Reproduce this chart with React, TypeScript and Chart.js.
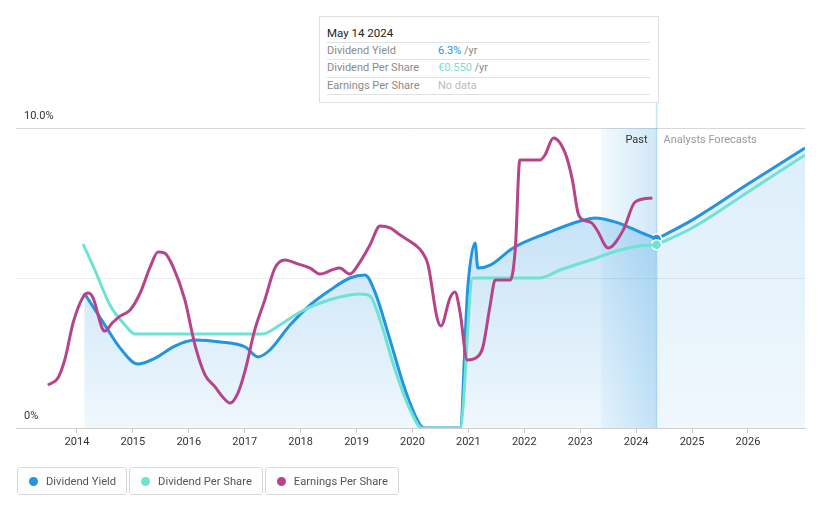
import React, { useEffect, useRef } from "react";
import { Chart, registerables } from "chart.js";

Chart.register(...registerables);

// ---- data (decimal years) ----
const yearTicks = [2014, 2015, 2016, 2017, 2018, 2019, 2020, 2021, 2022, 2023, 2024, 2025, 2026];
const X_MIN = 2012.91;
const X_MAX = 2027.02;
const PAST_START = 2023.37;
const TODAY = 2024.366;

// Dividend Yield (%) – past
const dyYears = [2014.13, 2014.5, 2014.77, 2015.09, 2015.4, 2015.75, 2016.11, 2016.56, 2017.01, 2017.24, 2017.45, 2017.81, 2018.17, 2018.53, 2018.88, 2019.15, 2019.33, 2019.6, 2019.87, 2020.14, 2020.23, 2020.85, 2020.99, 2021.12, 2021.17, 2021.39, 2021.8, 2022.41, 2023.0, 2023.27, 2023.62, 2024.07, 2024.366];
const dyValues = [4.5, 3.43, 2.67, 2.13, 2.33, 2.73, 2.93, 2.87, 2.7, 2.37, 2.6, 3.43, 4.1, 4.6, 5.0, 5.1, 4.53, 2.93, 1.27, 0.1, 0, 0, 4.7, 6.17, 5.33, 5.43, 6.0, 6.5, 6.9, 7.0, 6.87, 6.53, 6.3];
// Dividend Yield (%) – analysts forecast
const dyFcYears = [2024.366, 2025.0, 2026.0, 2027.02];
const dyFcValues = [6.3, 6.93, 8.13, 9.33];

// Dividend Per Share (EUR) – past
const dpsYears = [2014.11, 2014.32, 2014.59, 2014.86, 2015.04, 2016.2, 2017.31, 2017.63, 2017.99, 2018.35, 2018.7, 2019.06, 2019.24, 2019.42, 2019.69, 2019.96, 2020.17, 2020.85, 2021.08, 2022.28, 2022.64, 2023.18, 2023.71, 2024.07, 2024.366];
const dpsValues = [0.552, 0.474, 0.369, 0.309, 0.282, 0.282, 0.282, 0.309, 0.348, 0.375, 0.393, 0.402, 0.396, 0.324, 0.174, 0.054, 0, 0, 0.45, 0.45, 0.474, 0.504, 0.534, 0.547, 0.55];
// Dividend Per Share (EUR) – analysts forecast
const dpsFcYears = [2024.366, 2025.0, 2026.0, 2027.02];
const dpsFcValues = [0.55, 0.6, 0.708, 0.819];

// Earnings Per Share (relative units)
const epsYears = [2013.48, 2013.66, 2013.79, 2013.93, 2014.11, 2014.2, 2014.29, 2014.45, 2014.5, 2014.63, 2014.77, 2014.95, 2015.13, 2015.31, 2015.45, 2015.57, 2015.72, 2015.93, 2016.11, 2016.29, 2016.47, 2016.59, 2016.74, 2016.88, 2017.01, 2017.18, 2017.36, 2017.54, 2017.72, 2017.95, 2018.17, 2018.35, 2018.56, 2018.7, 2018.88, 2019.06, 2019.24, 2019.42, 2019.6, 2019.78, 2020.05, 2020.17, 2020.28, 2020.44, 2020.51, 2020.67, 2020.76, 2020.85, 2020.98, 2021.16, 2021.26, 2021.39, 2021.48, 2021.75, 2021.84, 2021.92, 2022.28, 2022.37, 2022.52, 2022.73, 2022.86, 2022.96, 2023.02, 2023.21, 2023.3, 2023.5, 2023.77, 2023.98, 2024.29];
const epsValues = [1.43, 1.67, 2.33, 3.5, 4.37, 4.5, 4.33, 3.33, 3.23, 3.5, 3.73, 3.93, 4.5, 5.37, 5.87, 5.83, 5.37, 4.27, 2.77, 1.77, 1.37, 1.07, 0.83, 1.17, 1.93, 3.27, 4.27, 5.33, 5.6, 5.47, 5.33, 5.13, 5.27, 5.33, 5.13, 5.53, 6.1, 6.73, 6.67, 6.43, 6.1, 5.87, 5.43, 3.67, 3.4, 4.33, 4.53, 3.87, 2.27, 2.37, 2.7, 4.1, 4.93, 4.93, 6.0, 8.93, 8.93, 9.1, 9.67, 9.17, 8.27, 7.17, 6.97, 6.83, 6.6, 6.0, 6.6, 7.53, 7.67];

const BLUE = "#2394df";
const TEAL = "#6fe3d3";
const MAGENTA = "#b7448a";
const FONT = "Roboto, 'Noto Sans', sans-serif";

const pts = (xs: number[], ys: number[]) => xs.map((x, i) => ({ x, y: ys[i] }));

const overlayPlugin = {
  id: "overlay",
  beforeDatasetsDraw(chart: any) {
    const { ctx, chartArea, scales } = chart;
    const x = scales.x;
    const x0 = x.getPixelForValue(PAST_START);
    const x1 = x.getPixelForValue(TODAY);
    ctx.save();
    const g = ctx.createLinearGradient(x0, 0, x1, 0);
    g.addColorStop(0, "rgba(35,148,223,0.05)");
    g.addColorStop(1, "rgba(35,148,223,0.22)");
    ctx.fillStyle = g;
    ctx.fillRect(x0, chartArea.top, x1 - x0, chartArea.bottom - chartArea.top);
    ctx.strokeStyle = "rgba(35,148,223,0.25)";
    ctx.lineWidth = 1.5;
    ctx.beginPath();
    ctx.moveTo(x1, 100);
    ctx.lineTo(x1, chartArea.bottom);
    ctx.stroke();
    ctx.font = `11px ${FONT}`;
    ctx.textBaseline = "middle";
    ctx.textAlign = "right";
    ctx.fillStyle = "#333";
    ctx.fillText("Past", x1 - 9, 140);
    ctx.textAlign = "left";
    ctx.fillStyle = "#999";
    ctx.fillText("Analysts Forecasts", x1 + 7, 140);
    ctx.restore();
  },
};

const areaFill = (a0: number, a1: number) => (c: any) => {
  const chart = c.chart;
  const ca = chart.chartArea;
  if (!ca) return "rgba(35,148,223,0.15)";
  const g = chart.ctx.createLinearGradient(0, ca.top, 0, ca.bottom);
  g.addColorStop(0, `rgba(35,148,223,${a0})`);
  g.addColorStop(1, `rgba(35,148,223,${a1})`);
  return g;
};

export default function App() {
  const ref = useRef<HTMLCanvasElement | null>(null);

  useEffect(() => {
    if (!ref.current) return;
    const chart = new Chart(ref.current, {
      type: "line",
      data: {
        datasets: [
          {
            label: "Earnings Per Share",
            data: pts(epsYears, epsValues),
            borderColor: MAGENTA,
            borderWidth: 3,
            pointRadius: 0,
            cubicInterpolationMode: "monotone",
            fill: false,
            yAxisID: "y",
          },
          {
            label: "Dividend Per Share",
            data: pts(dpsYears, dpsValues),
            borderColor: TEAL,
            borderWidth: 3,
            pointRadius: 0,
            cubicInterpolationMode: "monotone",
            fill: false,
            yAxisID: "yDps",
          },
          {
            label: "Dividend Per Share forecast",
            data: pts(dpsFcYears, dpsFcValues),
            borderColor: TEAL,
            borderWidth: 3,
            pointRadius: (c: any) => (c.dataIndex === 0 ? 5 : 0),
            pointBackgroundColor: TEAL,
            pointBorderColor: "#fff",
            pointBorderWidth: 1.5,
            cubicInterpolationMode: "monotone",
            fill: false,
            yAxisID: "yDps",
          },
          {
            label: "Dividend Yield",
            data: pts(dyYears, dyValues),
            borderColor: BLUE,
            borderWidth: 3,
            pointRadius: 0,
            cubicInterpolationMode: "monotone",
            fill: "origin",
            backgroundColor: areaFill(0.34, 0.07),
            yAxisID: "y",
          },
          {
            label: "Dividend Yield forecast",
            data: pts(dyFcYears, dyFcValues),
            borderColor: BLUE,
            borderWidth: 3,
            pointRadius: (c: any) => (c.dataIndex === 0 ? 5 : 0),
            pointBackgroundColor: BLUE,
            pointBorderColor: "#fff",
            pointBorderWidth: 1.5,
            cubicInterpolationMode: "monotone",
            fill: "origin",
            backgroundColor: areaFill(0.16, 0.07),
            yAxisID: "y",
          },
        ],
      },
      options: {
        responsive: false,
        animation: false,
        events: [],
        layout: { padding: { left: 16, right: 16, top: 128, bottom: 0 } },
        plugins: { legend: { display: false }, tooltip: { enabled: false } },
        scales: {
          x: {
            type: "linear",
            min: X_MIN,
            max: X_MAX,
            afterBuildTicks: (s: any) => {
              s.ticks = yearTicks.map((v) => ({ value: v }));
            },
            afterFit: (s: any) => {
              s.height = 80;
            },
            grid: { drawOnChartArea: false, drawTicks: true, tickLength: 5, color: "#cccccc" },
            border: { display: true, color: "#d0d0d0" },
            ticks: {
              color: "#333",
              font: { family: FONT, size: 11 },
              padding: 3,
              maxRotation: 0,
              autoSkip: false,
              callback: (v: any) => String(v),
            },
          },
          y: {
            min: 0,
            max: 10,
            afterFit: (s: any) => {
              s.width = 0;
            },
            grid: {
              drawTicks: false,
              color: (c: any) => (c.tick && c.tick.value === 5 ? "#ececec" : "#d8d8d8"),
            },
            border: { display: false },
            ticks: {
              stepSize: 5,
              mirror: true,
              padding: 8,
              labelOffset: -12,
              color: "#333",
              font: { family: FONT, size: 11 },
              callback: (v: any) => (v === 10 ? "10.0%" : v === 0 ? "0%" : ""),
            },
          },
          yDps: { display: false, min: 0, max: 0.9 },
        },
      },
      plugins: [overlayPlugin],
    } as any);
    return () => chart.destroy();
  }, []);

  const row = (top: number, label: string, value: React.ReactNode) => (
    <>
      <div style={{ position: "absolute", left: 7, top: top - 8, height: 16, lineHeight: "16px", color: "#8a8a8a", whiteSpace: "nowrap" }}>{label}</div>
      <div style={{ position: "absolute", left: 118, top: top - 8, height: 16, lineHeight: "16px", whiteSpace: "nowrap" }}>{value}</div>
    </>
  );
  const sep = (top: number) => (
    <div style={{ position: "absolute", left: 7, top, width: 323, height: 1, background: "#e2e2e2" }} />
  );

  const legendItem = (color: string, label: string) => (
    <div
      style={{
        boxSizing: "border-box",
        height: 28,
        border: "1px solid #d9d9d9",
        borderRadius: 3,
        display: "flex",
        alignItems: "center",
        padding: "0 10px 0 11px",
        background: "#fff",
      }}
    >
      <span style={{ width: 9, height: 9, borderRadius: "50%", background: color, display: "inline-block", marginRight: 8 }} />
      <span style={{ color: "#555", fontSize: 11.2, whiteSpace: "nowrap" }}>{label}</span>
    </div>
  );

  return (
    <div style={{ position: "absolute", left: 0, top: 0, width: 821, height: 508, background: "#fff", fontFamily: FONT, overflow: "hidden" }}>
      <canvas ref={ref} width={821} height={508} style={{ position: "absolute", left: 0, top: 0 }} />
      <div
        style={{
          position: "absolute",
          left: 319,
          top: 16,
          width: 340,
          height: 87,
          boxSizing: "border-box",
          border: "1px solid #e0e0e0",
          background: "#fff",
          fontSize: 11,
        }}
      >
        <div style={{ position: "absolute", left: 7, top: 8, height: 16, lineHeight: "16px", color: "#222", fontSize: 11.5, whiteSpace: "nowrap" }}>May 14 2024</div>
        {sep(25)}
        {row(34, "Dividend Yield", <><span style={{ color: BLUE }}>6.3%</span><span style={{ color: "#8a8a8a" }}> /yr</span></>)}
        {sep(42)}
        {row(51, "Dividend Per Share", <><span style={{ color: TEAL }}>€0.550</span><span style={{ color: "#8a8a8a" }}> /yr</span></>)}
        {sep(60)}
        {row(69, "Earnings Per Share", <span style={{ color: "#bbbbbb" }}>No data</span>)}
        {sep(77)}
      </div>
      <div style={{ position: "absolute", left: 17, top: 467, display: "flex", gap: 2 }}>
        {legendItem(BLUE, "Dividend Yield")}
        {legendItem(TEAL, "Dividend Per Share")}
        {legendItem(MAGENTA, "Earnings Per Share")}
      </div>
    </div>
  );
}
